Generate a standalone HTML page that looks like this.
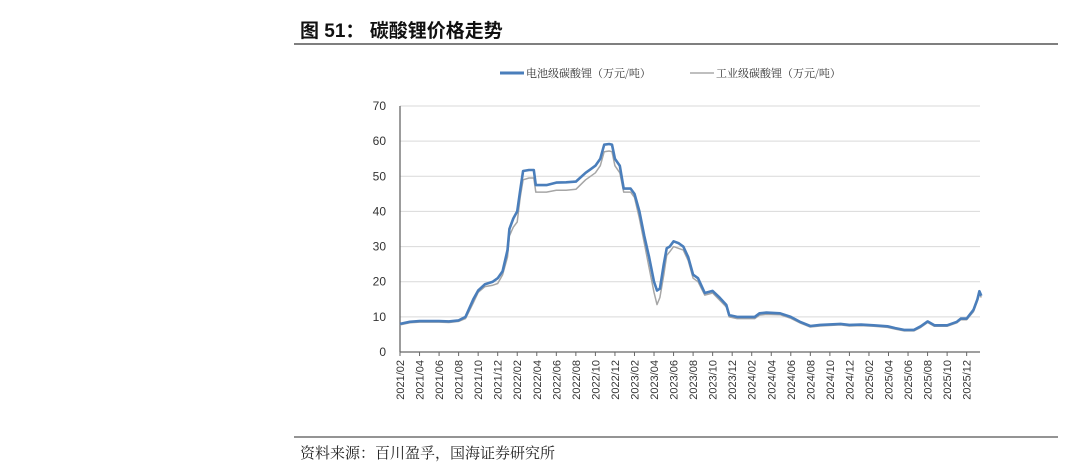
<!DOCTYPE html>
<html><head><meta charset="utf-8">
<style>
body{margin:0;width:1071px;height:471px;background:#fff;overflow:hidden;font-family:"Liberation Sans","Noto Sans CJK SC",sans-serif;}
</style></head><body>
<svg width="1071" height="471" xmlns="http://www.w3.org/2000/svg">
<text x="300" y="37" font-size="19" font-weight="bold" fill="#111" font-family="Liberation Sans, Noto Sans CJK SC, sans-serif">图 51：  碳酸锂价格走势</text>
<line x1="294" y1="44" x2="1058" y2="44" stroke="#555" stroke-width="1.5"/>
<g>
<line x1="500" y1="73" x2="524" y2="73" stroke="#4a7ebb" stroke-width="3"/>
<text x="526" y="77" font-size="11" fill="#333" font-family="Noto Serif CJK SC, serif">电池级碳酸锂（万元/吨）</text>
<line x1="690" y1="73" x2="714" y2="73" stroke="#999" stroke-width="1.2"/>
<text x="716" y="77" font-size="11" fill="#333" font-family="Noto Serif CJK SC, serif">工业级碳酸锂（万元/吨）</text>
</g>
<g id="grid"></g><g id="axes"></g><g id="series"></g>
<line x1="294" y1="437" x2="1058" y2="437" stroke="#555" stroke-width="1.2"/>
<text x="300" y="458" font-size="15" fill="#222" font-family="Noto Serif CJK SC, serif">资料来源：百川盈孚，国海证券研究所</text>
</svg>
<script>
// month index 0 = 2021/02
const batteryX = [0,1,2,3,4,5,6,6.7,7.5,8,8.7,9.5,10,10.5,11,11.2,11.6,12,12.3,12.6,13.2,13.7,13.9,15,16,17,18,19,19.5,20,20.5,20.9,21.4,21.7,22,22.5,22.9,23.6,24,24.5,25,25.5,26,26.3,26.6,27,27.3,27.6,28,28.5,29,29.5,30,30.5,31.2,32,32.7,33.4,33.7,34.5,35.5,36.3,36.8,37.5,38.9,40,41,42,43,45.1,46,47.2,48.5,49.9,50.7,51.6,52.6,53.3,54,54.7,56,57,57.4,58,58.7,59.1,59.3,59.5];
const batteryV = [8,8.6,8.8,8.8,8.8,8.7,9,10,15,17.5,19.3,20,21,23,29,35,38,40,46,51.5,51.8,51.8,47.5,47.5,48.2,48.3,48.5,51,52,53,55,59,59.2,59,55,53,46.5,46.5,45,40,33,27,20,17.5,18,25,29.5,30,31.5,31,30,27,22,21,16.8,17.4,15.5,13.4,10.5,10,10,10,11,11.2,11,10,8.5,7.4,7.7,8,7.7,7.8,7.6,7.3,6.8,6.3,6.3,7.3,8.7,7.6,7.6,8.6,9.5,9.5,12,15,17.3,16];
const industrialX = batteryX.slice();
const industrialV = [7.7,8.3,8.5,8.5,8.5,8.4,8.7,9.5,14,17,18.6,19,19.5,22,27,33,35.5,37,44,49,49.5,49.5,45.5,45.5,46,46,46.3,49,50,51,53,57,57.2,57,53,51,45.5,45.5,44,38,31,24,17,13.5,15.5,22,27.5,28.5,30,29.5,29,26,21,20,16.2,16.8,14.8,12.8,10,9.5,9.5,9.5,10.5,10.7,10.6,9.6,8.2,7.1,7.4,7.7,7.4,7.5,7.3,7,6.5,6,6,7,8.4,7.3,7.3,8.3,9.2,9.2,11.5,14.5,16.5,15.5];
const yTicks = [0,10,20,30,40,50,60,70];
const xTickLabels = ["2021/02","2021/04","2021/06","2021/08","2021/10","2021/12","2022/02","2022/04","2022/06","2022/08","2022/10","2022/12","2023/02","2023/04","2023/06","2023/08","2023/10","2023/12","2024/02","2024/04","2024/06","2024/08","2024/10","2024/12","2025/02","2025/04","2025/06","2025/08","2025/10","2025/12"];

const NS="http://www.w3.org/2000/svg";
const X0=400,X1=980,Y0=352,YT=106,MW=9.77;
const xs=m=>X0+m*MW, ys=v=>Y0-(v/70)*(Y0-YT);
function mk(t,a,p){const e=document.createElementNS(NS,t);for(const k in a)e.setAttribute(k,a[k]);p.appendChild(e);return e;}
const grid=document.getElementById('grid'),axes=document.getElementById('axes'),ser=document.getElementById('series');
yTicks.forEach(v=>{
  if(v>0){const g=mk('line',{x1:X0,x2:X1,y1:ys(v),y2:ys(v),stroke:'#d9d9d9','stroke-width':1},grid);
  
  }
  const t=mk('text',{x:X0-14,y:ys(v)+4,'font-size':12,fill:'#333','text-anchor':'end'},axes);
  t.textContent=v;
  
  
});
const ya=mk('line',{x1:X0,x2:X0,y1:YT,y2:Y0,stroke:'#666','stroke-width':1.3},axes);


const xa=mk('line',{x1:X0,x2:X1,y1:Y0,y2:Y0,stroke:'#666','stroke-width':1.3},axes);


xTickLabels.forEach((l,i)=>{
  const x=xs(i*2);
  const tk=mk('line',{x1:x,x2:x,y1:Y0,y2:Y0+4,stroke:'#666'},axes);
  
  
  const t=mk('text',{x:x+4,y:Y0+8,'font-size':11,fill:'#333','text-anchor':'end',transform:`rotate(-90 ${x+4} ${Y0+8})`},axes);
  t.textContent=l;
  
  
});
function path(xa,va){return xa.map((m,i)=>(i?'L':'M')+xs(m).toFixed(1)+','+ys(va[i]).toFixed(1)).join('');}
const pi=mk('path',{d:path(industrialX,industrialV),fill:'none',stroke:'#a6a6a6','stroke-width':1.5,'stroke-linejoin':'round'},ser);


const pb=mk('path',{d:path(batteryX,batteryV),fill:'none',stroke:'#4a7ebb','stroke-width':2.6,'stroke-linejoin':'round'},ser);


</script>
</body></html>
